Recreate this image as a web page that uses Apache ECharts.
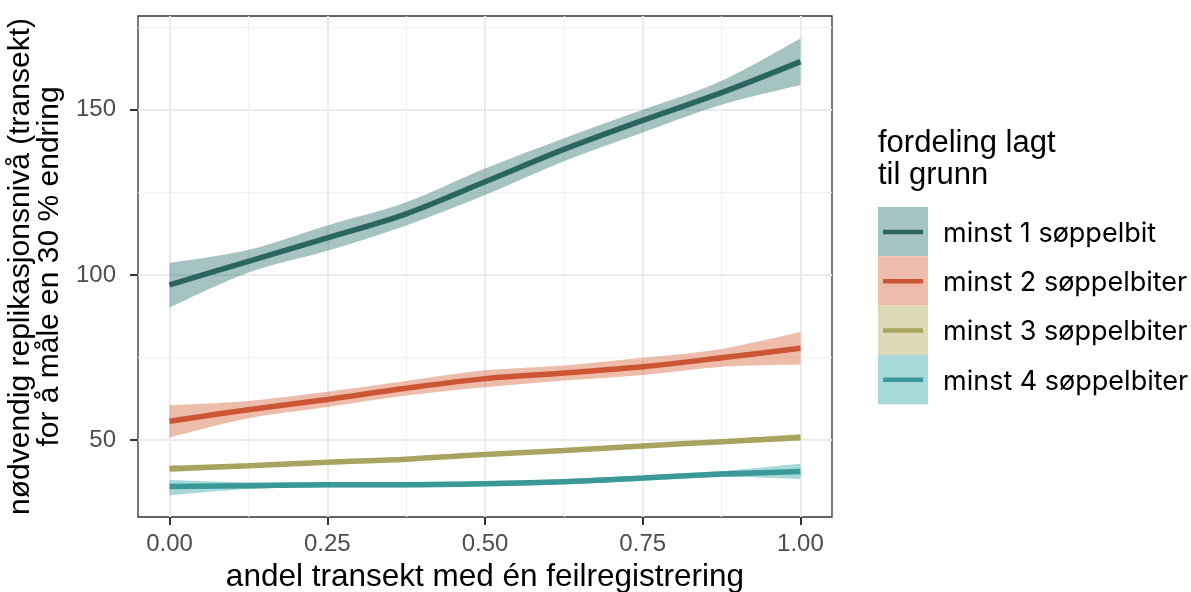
<!DOCTYPE html>
<html>
<head>
<meta charset="utf-8">
<script src="https://cdn.jsdelivr.net/npm/echarts@6/dist/echarts.min.js"></script>
<style>html,body{margin:0;padding:0;background:#fff;}#c{width:1191px;height:592px;}</style>
</head>
<body>
<div id="c"></div>
<script>
const xValues = [0, 0.125, 0.25, 0.375, 0.5, 0.625, 0.75, 0.875, 1.0];
const seriesNames = ['minst 1 søppelbit', 'minst 2 søppelbiter', 'minst 3 søppelbiter', 'minst 4 søppelbiter'];
const fit1 = [97.0, 104.1, 111.2, 118.5, 128.2, 138.0, 146.8, 155.2, 164.6];
const hi1  = [103.6, 107.6, 115.0, 122.0, 132.2, 141.4, 150.0, 158.8, 171.6];
const lo1  = [90.1, 100.7, 107.3, 115.0, 124.2, 134.4, 143.1, 151.5, 157.5];
const fit2 = [55.7, 59.2, 62.3, 65.7, 68.6, 70.3, 72.2, 74.9, 77.8];
const hi2  = [60.5, 61.8, 64.6, 67.9, 71.1, 72.6, 74.9, 77.6, 82.7];
const lo2  = [50.8, 56.6, 60.0, 63.5, 66.0, 68.0, 69.7, 72.2, 72.9];
const fit3 = [41.3, 42.2, 43.3, 44.2, 45.6, 46.8, 48.2, 49.5, 50.8];
const hi3  = [42.4, 42.8, 43.9, 44.8, 46.2, 47.4, 48.8, 50.1, 51.9];
const lo3  = [40.2, 41.6, 42.7, 43.6, 45.0, 46.2, 47.6, 48.9, 49.7];
const fit4 = [35.9, 36.2, 36.5, 36.5, 36.8, 37.4, 38.5, 39.7, 40.5];
const hi4  = [37.9, 37.2, 37.3, 37.3, 37.6, 38.2, 39.3, 40.6, 42.8];
const lo4  = [33.3, 35.2, 35.7, 35.7, 36.0, 36.6, 37.7, 38.8, 38.2];
const xTicks = [0, 0.25, 0.5, 0.75, 1.0];
const xMinor = [0.125, 0.375, 0.625, 0.875];
const yTicks = [50, 100, 150];
const yMinor = [75, 125, 175];

const fits = [fit1, fit2, fit3, fit4];
const his = [hi1, hi2, hi3, hi4];
const los = [lo1, lo2, lo3, lo4];
const lineColors = ['#2a6661', '#cc5533', '#a8a35f', '#3a9899'];
const bandColors = ['rgba(28,105,100,0.4)', 'rgba(212,87,45,0.4)', 'rgba(170,160,72,0.4)', 'rgba(35,157,162,0.4)'];
const keyColors = ['#a4c3c1', '#eebcab', '#ddd9b6', '#a7d8da'];

const AXF = 'Liberation Sans';
const chart = echarts.init(document.getElementById('c'), null, {renderer: 'canvas'});

// Catmull-Rom -> cubic bezier path segment through pixel points
function curve(pts, move) {
  let d = (move ? 'M' : 'L') + pts[0][0] + ' ' + pts[0][1];
  for (let k = 0; k < pts.length - 1; k++) {
    const p0 = pts[k - 1] || pts[k], p1 = pts[k], p2 = pts[k + 1], p3 = pts[k + 2] || pts[k + 1];
    const c1 = [p1[0] + (p2[0] - p0[0]) / 6, p1[1] + (p2[1] - p0[1]) / 6];
    const c2 = [p2[0] - (p3[0] - p1[0]) / 6, p2[1] - (p3[1] - p1[1]) / 6];
    d += 'C' + c1[0] + ' ' + c1[1] + ' ' + c2[0] + ' ' + c2[1] + ' ' + p2[0] + ' ' + p2[1];
  }
  return d;
}

const series = [];
for (let i = 0; i < 4; i++) {
  series.push({
    type: 'custom', name: 'band' + i, silent: true, z: 2 + i * 2,
    data: xValues.map((x, j) => [x, los[i][j], his[i][j]]),
    encode: {x: 0, y: [1, 2]},
    renderItem: function (params, api) {
      if (params.dataIndex !== 0) return null;
      const up = xValues.map((x, j) => api.coord([x, his[i][j]]));
      const dn = xValues.map((x, j) => api.coord([x, los[i][j]])).reverse();
      const d = curve(up, true) + curve(dn, false) + 'Z';
      return {type: 'path', shape: {pathData: d}, style: {fill: bandColors[i], stroke: null}};
    }
  });
  series.push({
    type: 'line', name: seriesNames[i], smooth: 0.333, symbol: 'none', silent: true,
    lineStyle: {color: lineColors[i], width: 5.5, cap: 'butt'}, z: 3 + i * 2,
    data: xValues.map((x, j) => [x, fits[i][j]])
  });
}

const graphics = [];
const keyX = 878, keyY = 207, keyW = 50, keyH = 49.3;
graphics.push({type: 'text', left: 878, top: 127, style: {text: 'fordeling lagt\ntil grunn', font: '31px "Liberation Sans"', fill: '#000', lineHeight: 32}});
for (let i = 0; i < 4; i++) {
  graphics.push({type: 'rect', shape: {x: keyX, y: keyY + i * keyH, width: keyW, height: keyH}, style: {fill: keyColors[i]}});
  graphics.push({type: 'rect', shape: {x: keyX + 5, y: keyY + i * keyH + keyH / 2 - 2, width: keyW - 10, height: 4.5}, style: {fill: lineColors[i]}});
  graphics.push({type: 'text', x: 943, y: keyY + i * keyH + keyH / 2 + 2, style: {text: seriesNames[i], font: '27px Inter', fill: '#000', verticalAlign: 'middle'}});
}

const option = {
  animation: false,
  backgroundColor: '#fff',
  grid: {left: 138, right: 359, top: 16, bottom: 75, outerBoundsMode: 'none', containLabel: false,
         show: true, borderColor: '#333', borderWidth: 1.3, backgroundColor: 'transparent'},
  xAxis: [{
    type: 'value', min: -0.05, max: 1.05,
    name: 'andel transekt med én feilregistrering', nameLocation: 'middle', nameGap: 44,
    nameTextStyle: {fontFamily: AXF, fontSize: 31.5, color: '#000'},
    axisLine: {show: false, onZero: false},
    axisTick: {show: true, length: 8, lineStyle: {color: '#333', width: 2}, customValues: xTicks},
    axisLabel: {customValues: xTicks, formatter: v => v.toFixed(2), fontFamily: AXF, fontSize: 24, color: '#4d4d4d', margin: 15},
    splitLine: {show: true, lineStyle: {color: '#ebebeb', width: 2}}
  }, {
    type: 'value', min: -0.05, max: 1.05, position: 'bottom',
    axisLine: {show: false, onZero: false}, axisTick: {show: false, customValues: xMinor},
    axisLabel: {show: false, customValues: xMinor},
    splitLine: {show: true, lineStyle: {color: '#f2f2f2', width: 1.2}}
  }],
  yAxis: [{
    type: 'value', min: 26.7, max: 178.4,
    name: 'nødvendig replikasjonsnivå (transekt)\nfor å måle en 30 % endring', nameLocation: 'middle', nameGap: 74.5, nameRotate: 90,
    nameTextStyle: {fontFamily: AXF, fontSize: 30, color: '#000', lineHeight: 28.5, align: 'center'},
    axisLine: {show: false, onZero: false},
    axisTick: {show: true, length: 8, lineStyle: {color: '#333', width: 2}, customValues: yTicks},
    axisLabel: {customValues: yTicks, fontFamily: AXF, fontSize: 24, color: '#4d4d4d', margin: 22},
    splitLine: {show: true, lineStyle: {color: '#ebebeb', width: 2}}
  }, {
    type: 'value', min: 26.7, max: 178.4, position: 'left',
    axisLine: {show: false, onZero: false}, axisTick: {show: false, customValues: yMinor},
    axisLabel: {show: false, customValues: yMinor},
    splitLine: {show: true, lineStyle: {color: '#f2f2f2', width: 1.2}}
  }],
  series: series,
  graphic: graphics
};
chart.setOption(option);
</script>
</body>
</html>
